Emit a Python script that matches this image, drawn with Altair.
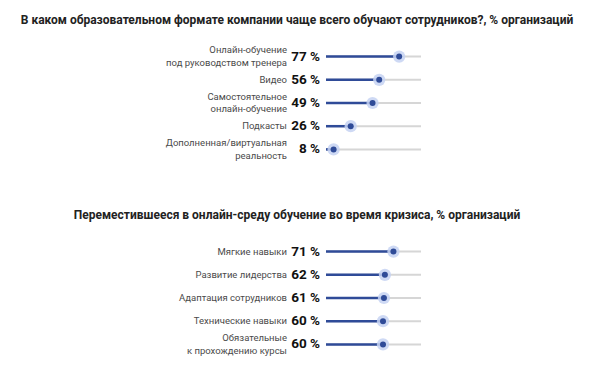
import altair as alt
import pandas as pd

title1 = "В каком образовательном формате компании чаще всего обучают сотрудников?, % организаций"
cats1 = ["Онлайн-обучение\nпод руководством тренера", "Видео", "Самостоятельное\nонлайн-обучение",
         "Подкасты", "Дополненная/виртуальная\nреальность"]
vals1 = [77, 56, 49, 26, 8]

title2 = "Переместившееся в онлайн-среду обучение во время кризиса, % организаций"
cats2 = ["Мягкие навыки", "Развитие лидерства", "Адаптация сотрудников",
         "Технические навыки", "Обязательные\nк прохождению курсы"]
vals2 = [71, 62, 61, 60, 60]

BLUE = "#2f4b98"
HALO = "#c5d2f2"
TRACK = "#d6d6d6"
FONT = "Roboto"


def panel(title, cats, vals):
    df = pd.DataFrame({"cat": cats, "val": vals, "zero": [0] * len(cats), "full": [100] * len(cats)})
    df["label"] = df["val"].astype(str) + " %"
    df["lines"] = df["cat"].str.split("\n")
    df["n"] = df["lines"].apply(len)
    xs = alt.Scale(domain=[0, 100], range=[318, 413])
    ys = alt.Y("cat:N", sort=cats, axis=None, scale=alt.Scale(type="point", padding=0.5))
    base = alt.Chart(df).encode(y=ys)
    track = base.mark_rule(color=TRACK, strokeWidth=2).encode(
        x=alt.X("zero:Q", scale=xs, axis=None), x2="full:Q")
    bar = base.mark_rule(color=BLUE, strokeWidth=2.5).encode(
        x=alt.X("zero:Q", scale=xs, axis=None), x2="val:Q")
    halo = base.mark_circle(color=HALO, opacity=0.85, size=150).encode(
        x=alt.X("val:Q", scale=xs, axis=None))
    dot = base.mark_circle(color=BLUE, opacity=1, size=36).encode(
        x=alt.X("val:Q", scale=xs, axis=None))
    vlab = base.mark_text(align="right", baseline="middle", fontWeight="bold",
                          fontSize=13.5, font=FONT, color="#111111").encode(
        x=alt.value(312), text="label:N")
    clab1 = base.transform_filter("datum.n == 1").mark_text(
        align="right", baseline="middle", fontSize=9.5, font=FONT, color="#4a4a4a").encode(
        x=alt.value(279), text="cat:N")
    clab2 = base.transform_filter("datum.n == 2").mark_text(
        align="right", baseline="middle", fontSize=9.5, font=FONT, color="#4a4a4a",
        lineHeight=12.5, dy=-6.25).encode(
        x=alt.value(279), text="lines")
    return alt.layer(track, bar, halo, dot, vlab, clab1, clab2).properties(
        width=580, height=116,
        title=alt.TitleParams(title, anchor="middle", dx=-1, fontSize=12,
                              font=FONT, fontWeight="bold", color="#222222", offset=18))


chart = alt.vconcat(panel(title1, cats1, vals1), panel(title2, cats2, vals2),
                    spacing=48).properties(
    padding={"top": 6, "left": 0, "right": 0, "bottom": 0}).configure_view(stroke=None)

chart.save("out.html", embed_options={"renderer": "svg", "actions": False})
